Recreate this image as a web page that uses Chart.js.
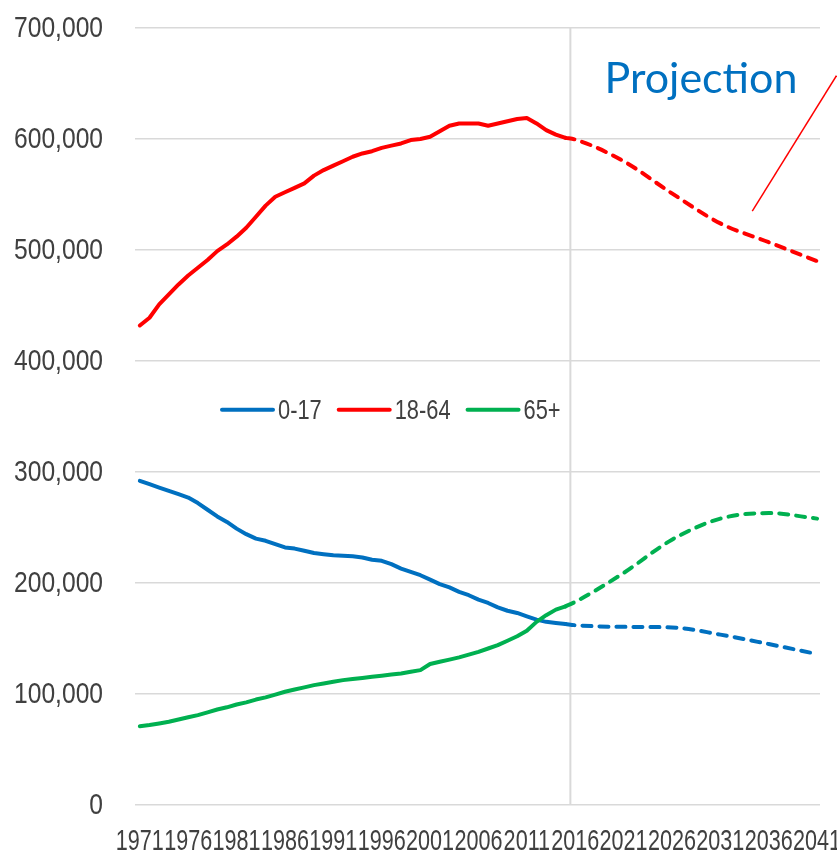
<!DOCTYPE html>
<html>
<head>
<meta charset="utf-8">
<script src="https://cdn.jsdelivr.net/npm/chart.js@4.4.1/dist/chart.umd.min.js"></script>
<style>
  html, body { margin: 0; padding: 0; background: #fff; }
  #wrap { width: 837px; height: 851px; }
</style>
</head>
<body>
<div id="wrap"><canvas id="popChart"></canvas></div>
<script>
// population by age group, thousands
const histYears = [];
for (let y = 1971; y <= 2015; y++) histYears.push(y);

const hist017 = [292, 289, 286, 283, 280, 277, 272, 266, 260, 255,
                 249, 244, 240, 238, 235, 232, 231, 229, 227, 226,
                 225, 224.5, 224, 223, 221, 220, 217, 213, 210, 207,
                 203, 199, 196, 192, 189, 185, 182, 178, 175, 173,
                 170, 167, 165, 164, 163];
const hist1864 = [432, 439, 451, 460, 469, 477, 484, 491, 499, 505,
                  512, 520, 530, 540, 548, 552, 556, 560, 567, 572,
                  576, 580, 584, 587, 589, 592, 594, 596, 599, 600,
                  602, 607, 612, 614, 614, 614, 612, 614, 616, 618,
                  619, 614, 608, 604, 601];
const hist65 = [71, 72, 73.5, 75, 77, 79, 81, 83.5, 86, 88,
                90.5, 92.5, 95, 97, 99.5, 102, 104, 106, 108, 109.5,
                111, 112.5, 113.5, 114.5, 115.5, 116.5, 117.5, 118.5, 120, 121.5,
                127, 129, 131, 133, 135.5, 138, 141, 144, 148, 152,
                157, 165, 171, 176, 179];

const projYears = [2015, 2016, 2021, 2026, 2031, 2036, 2041];
const proj017  = [163, 162, 160.5, 160, 153.5, 145, 136];
const proj1864 = [601, 599.5, 580, 551, 524, 507, 490];
const proj65   = [179, 183, 209, 239, 258, 263, 258];

const seriesNames = ['0-17', '18-64', '65+'];
const seriesColors = ['#0070C0', '#FF0000', '#00B050'];

const xTickYears = [1971, 1976, 1981, 1986, 1991, 1996, 2001, 2006, 2011, 2016, 2021, 2026, 2031, 2036, 2041];
const yTicks = [0, 100, 200, 300, 400, 500, 600, 700];
const projStart = 2015.5;

// narrow look: Liberation Sans squeezed horizontally
const labelFont = "'Liberation Sans', Arial, sans-serif";
const textColor = '#404040';

let toPoints = (xs, ys) => xs.map((x, i) => ({ x: x, y: ys[i] }));

let histSet = (i, data) => ({
  label: seriesNames[i],
  data: toPoints(histYears, data),
  borderColor: seriesColors[i],
  borderWidth: 4,
  borderCapStyle: 'round',
  borderJoinStyle: 'round',
  pointRadius: 0,
  tension: 0,
  order: 3 - i
});
let projSet = (i, data) => ({
  label: seriesNames[i] + ' proj',
  data: toPoints(projYears, data),
  borderColor: seriesColors[i],
  borderWidth: 4,
  borderDash: [9, 8],
  borderCapStyle: 'round',
  pointRadius: 0,
  cubicInterpolationMode: 'monotone',
  order: 3 - i
});

let narrowText = (ctx, text, x, y, sx, align) => {
  ctx.save();
  ctx.translate(x, y);
  ctx.scale(sx, 1);
  ctx.textAlign = align;
  ctx.fillText(text, 0, 0);
  ctx.restore();
};

// tick labels, vertical split line, "Projection" label, pointer and legend
const extras = {
  id: 'extras',
  beforeDatasetsDraw(chart) {
    const { ctx, chartArea, scales } = chart;
    const x = scales.x.getPixelForValue(projStart);
    ctx.save();
    ctx.strokeStyle = '#d9d9d9';
    ctx.lineWidth = 2;
    ctx.beginPath();
    ctx.moveTo(x, chartArea.top);
    ctx.lineTo(x, chartArea.bottom);
    ctx.stroke();
    ctx.restore();
  },
  afterDraw(chart) {
    const { ctx, chartArea, scales } = chart;
    ctx.save();
    ctx.fillStyle = textColor;
    ctx.font = '30px ' + labelFont;
    ctx.textBaseline = 'middle';
    yTicks.forEach(v => {
      narrowText(ctx, (v * 1000).toLocaleString('en-US'), chartArea.left - 32, scales.y.getPixelForValue(v) + 1, 0.82, 'right');
    });
    ctx.textBaseline = 'alphabetic';
    xTickYears.forEach(v => {
      narrowText(ctx, String(v), scales.x.getPixelForValue(v), chartArea.bottom + 45, 0.72, 'center');
    });

    // label
    ctx.fillStyle = '#0070C0';
    ctx.font = "43px Lato, 'Open Sans', sans-serif";
    ctx.textAlign = 'center';
    ctx.fillText('Projection', scales.x.getPixelForValue(2029), scales.y.getPixelForValue(641));
    // pointer
    ctx.strokeStyle = '#FF0000';
    ctx.lineWidth = 1.5;
    ctx.beginPath();
    ctx.moveTo(scales.x.getPixelForValue(2034.3), scales.y.getPixelForValue(535));
    ctx.lineTo(scales.x.getPixelForValue(2043), scales.y.getPixelForValue(657));
    ctx.stroke();
    // legend
    ctx.font = '28px ' + labelFont;
    ctx.textBaseline = 'middle';
    let lx = chartArea.left + 87;
    const ly = scales.y.getPixelForValue(356);
    const sx = 0.78;
    seriesNames.forEach((name, i) => {
      ctx.strokeStyle = seriesColors[i];
      ctx.lineWidth = 4;
      ctx.lineCap = 'round';
      ctx.beginPath();
      ctx.moveTo(lx, ly);
      ctx.lineTo(lx + 51, ly);
      ctx.stroke();
      ctx.fillStyle = textColor;
      narrowText(ctx, name, lx + 56, ly + 1, sx, 'left');
      lx += 56 + ctx.measureText(name).width * sx + 17;
    });
    ctx.restore();
  }
};

const ctx = document.getElementById('popChart');
new Chart(ctx, {
  type: 'line',
  data: {
    datasets: [
      histSet(0, hist017), projSet(0, proj017),
      histSet(1, hist1864), projSet(1, proj1864),
      histSet(2, hist65), projSet(2, proj65)
    ]
  },
  options: {
    responsive: true,
    maintainAspectRatio: false,
    animation: false,
    layout: { padding: { top: 28, right: 17, left: 0, bottom: 0 } },
    plugins: { legend: { display: false }, tooltip: { enabled: false } },
    scales: {
      x: {
        type: 'linear',
        min: 1970.5,
        max: 2041.3,
        afterBuildTicks: (scale) => { scale.ticks = xTickYears.map(v => ({ value: v })); },
        afterFit: (scale) => { scale.height = 46; },
        grid: { display: false, drawTicks: false },
        border: { display: false },
        ticks: { display: false }
      },
      y: {
        min: 0,
        max: 700,
        afterBuildTicks: (scale) => { scale.ticks = yTicks.map(v => ({ value: v })); },
        afterFit: (scale) => { scale.width = 135; },
        grid: { color: '#d9d9d9', lineWidth: 1.5, drawTicks: false },
        border: { display: false },
        ticks: { display: false }
      }
    }
  },
  plugins: [extras]
});
</script>
</body>
</html>
